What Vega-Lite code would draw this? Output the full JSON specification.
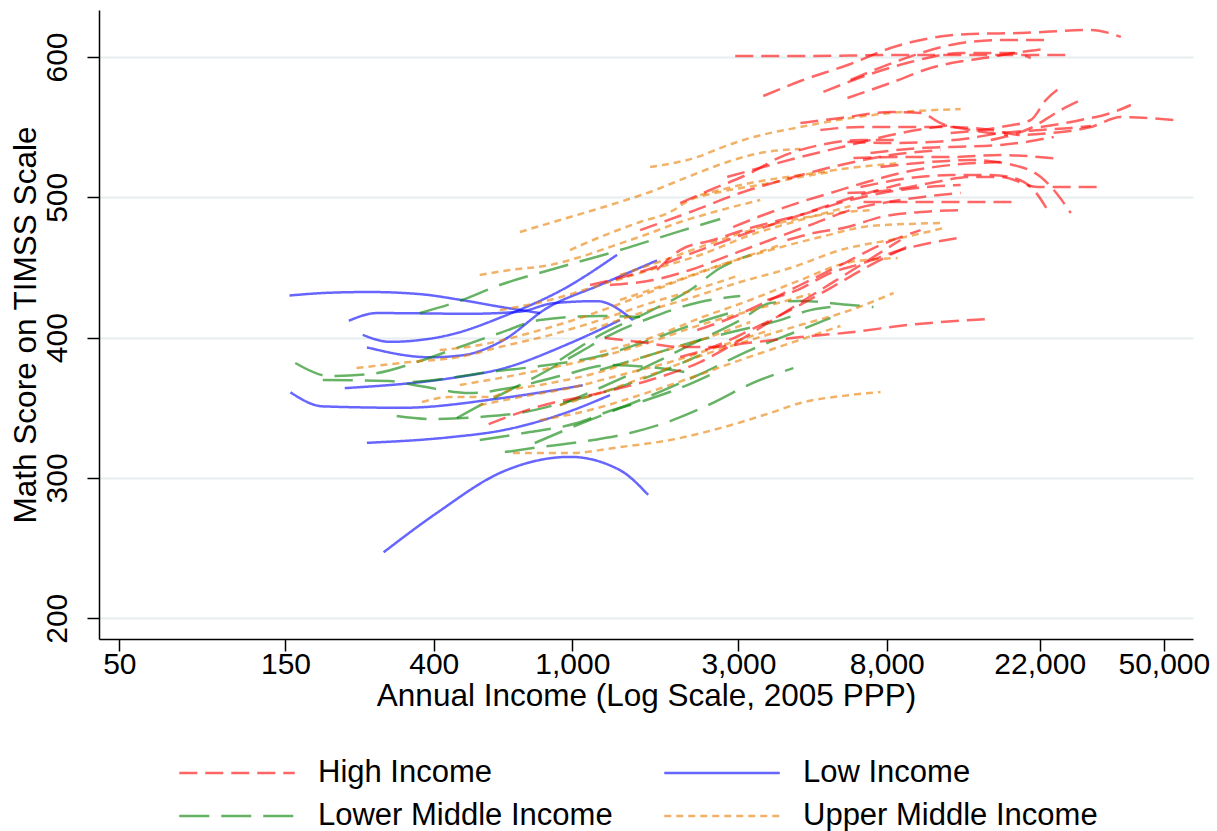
{
  "$schema": "https://vega.github.io/schema/vega-lite/v6.json",
  "width": 1094,
  "height": 629,
  "autosize": "none",
  "padding": {"left": 99, "top": 10, "right": 24, "bottom": 192},
  "background": "white",
  "data": {"values": [
    {"group":"Low Income","id":"L1","income":154,"score":430},{"group":"Low Income","id":"L1","income":201,"score":432},{"group":"Low Income","id":"L1","income":262,"score":432.5},{"group":"Low Income","id":"L1","income":365,"score":431},{"group":"Low Income","id":"L1","income":475,"score":427},{"group":"Low Income","id":"L1","income":619,"score":422},{"group":"Low Income","id":"L1","income":807,"score":417.5},
    {"group":"Low Income","id":"L2","income":228,"score":412},{"group":"Low Income","id":"L2","income":275,"score":417.5},{"group":"Low Income","id":"L2","income":508,"score":417},{"group":"Low Income","id":"L2","income":707,"score":418.5},{"group":"Low Income","id":"L2","income":880,"score":424.5},{"group":"Low Income","id":"L2","income":1177,"score":426},{"group":"Low Income","id":"L2","income":1494,"score":412.5},
    {"group":"Low Income","id":"L3","income":250,"score":402},{"group":"Low Income","id":"L3","income":299,"score":397},{"group":"Low Income","id":"L3","income":445,"score":402},{"group":"Low Income","id":"L3","income":632,"score":415},{"group":"Low Income","id":"L3","income":965,"score":436},{"group":"Low Income","id":"L3","income":1344,"score":459},
    {"group":"Low Income","id":"L4","income":257,"score":393},{"group":"Low Income","id":"L4","income":390,"score":386},{"group":"Low Income","id":"L4","income":485,"score":387.5},{"group":"Low Income","id":"L4","income":632,"score":398},{"group":"Low Income","id":"L4","income":845,"score":421},{"group":"Low Income","id":"L4","income":1200,"score":437.5},{"group":"Low Income","id":"L4","income":1751,"score":455},
    {"group":"Low Income","id":"L5","income":222,"score":364},{"group":"Low Income","id":"L5","income":445,"score":371},{"group":"Low Income","id":"L5","income":632,"score":378},{"group":"Low Income","id":"L5","income":984,"score":396},{"group":"Low Income","id":"L5","income":1371,"score":412.5},
    {"group":"Low Income","id":"L6","income":155,"score":361},{"group":"Low Income","id":"L6","income":192,"score":351},{"group":"Low Income","id":"L6","income":326,"score":350},{"group":"Low Income","id":"L6","income":632,"score":357},{"group":"Low Income","id":"L6","income":1071,"score":366},
    {"group":"Low Income","id":"L7","income":257,"score":325},{"group":"Low Income","id":"L7","income":445,"score":329},{"group":"Low Income","id":"L7","income":632,"score":334},{"group":"Low Income","id":"L7","income":921,"score":345},{"group":"Low Income","id":"L7","income":1283,"score":359},
    {"group":"Low Income","id":"L8","income":287,"score":247},{"group":"Low Income","id":"L8","income":408,"score":275},{"group":"Low Income","id":"L8","income":632,"score":304.5},{"group":"Low Income","id":"L8","income":984,"score":315},{"group":"Low Income","id":"L8","income":1371,"score":305.5},{"group":"Low Income","id":"L8","income":1650,"score":288},

    {"group":"Lower Middle Income","id":"M1","income":365,"score":417.5},{"group":"Lower Middle Income","id":"M1","income":475,"score":426.1},{"group":"Lower Middle Income","id":"M1","income":619,"score":437.5},{"group":"Lower Middle Income","id":"M1","income":862,"score":448.2},{"group":"Lower Middle Income","id":"M1","income":1371,"score":462.4},{"group":"Lower Middle Income","id":"M1","income":2040,"score":475.9},{"group":"Lower Middle Income","id":"M1","income":2659,"score":484.5},
    {"group":"Lower Middle Income","id":"M2","income":160,"score":381.9},{"group":"Lower Middle Income","id":"M2","income":201,"score":372.6},{"group":"Lower Middle Income","id":"M2","income":262,"score":374},{"group":"Lower Middle Income","id":"M2","income":365,"score":383.3},{"group":"Lower Middle Income","id":"M2","income":475,"score":393.3},{"group":"Lower Middle Income","id":"M2","income":619,"score":403.3},{"group":"Lower Middle Income","id":"M2","income":807,"score":412.5},{"group":"Lower Middle Income","id":"M2","income":1200,"score":415.4},{"group":"Lower Middle Income","id":"M2","income":1565,"score":414.7},
    {"group":"Lower Middle Income","id":"M3","income":192,"score":369.8},{"group":"Lower Middle Income","id":"M3","income":299,"score":369},{"group":"Lower Middle Income","id":"M3","income":365,"score":365.5},{"group":"Lower Middle Income","id":"M3","income":508,"score":360.5},{"group":"Lower Middle Income","id":"M3","income":662,"score":364.1},{"group":"Lower Middle Income","id":"M3","income":921,"score":372.6},{"group":"Lower Middle Income","id":"M3","income":1283,"score":380.5},{"group":"Lower Middle Income","id":"M3","income":1672,"score":379},{"group":"Lower Middle Income","id":"M3","income":2180,"score":374.8},
    {"group":"Lower Middle Income","id":"M4","income":348,"score":368.3},{"group":"Lower Middle Income","id":"M4","income":445,"score":371.2},{"group":"Lower Middle Income","id":"M4","income":580,"score":375.5},{"group":"Lower Middle Income","id":"M4","income":807,"score":379.7},{"group":"Lower Middle Income","id":"M4","income":1200,"score":386.9},{"group":"Lower Middle Income","id":"M4","income":1672,"score":398.3},{"group":"Lower Middle Income","id":"M4","income":2329,"score":411.1},{"group":"Lower Middle Income","id":"M4","income":3036,"score":419.7},
    {"group":"Lower Middle Income","id":"M5","income":313,"score":344.1},{"group":"Lower Middle Income","id":"M5","income":390,"score":342},{"group":"Lower Middle Income","id":"M5","income":542,"score":343.4},{"group":"Lower Middle Income","id":"M5","income":707,"score":346.3},{"group":"Lower Middle Income","id":"M5","income":984,"score":354.8},{"group":"Lower Middle Income","id":"M5","income":1283,"score":362.6},{"group":"Lower Middle Income","id":"M5","income":1672,"score":372.6},{"group":"Lower Middle Income","id":"M5","income":2329,"score":387.6},
    {"group":"Lower Middle Income","id":"M6","income":466,"score":342.7},{"group":"Lower Middle Income","id":"M6","income":580,"score":355.5},{"group":"Lower Middle Income","id":"M6","income":755,"score":369.8},{"group":"Lower Middle Income","id":"M6","income":1052,"score":389.7},{"group":"Lower Middle Income","id":"M6","income":1283,"score":401.8},{"group":"Lower Middle Income","id":"M6","income":1672,"score":414},{"group":"Lower Middle Income","id":"M6","income":2329,"score":425.4},{"group":"Lower Middle Income","id":"M6","income":3036,"score":429.6},
    {"group":"Lower Middle Income","id":"M7","income":640,"score":318.4},{"group":"Lower Middle Income","id":"M7","income":807,"score":322},{"group":"Lower Middle Income","id":"M7","income":1052,"score":325.6},{"group":"Lower Middle Income","id":"M7","income":1465,"score":332},{"group":"Lower Middle Income","id":"M7","income":1909,"score":340.5},{"group":"Lower Middle Income","id":"M7","income":2489,"score":352.6},{"group":"Lower Middle Income","id":"M7","income":3244,"score":366.9},{"group":"Lower Middle Income","id":"M7","income":4313,"score":378.3},
    {"group":"Lower Middle Income","id":"M8","income":780,"score":324.9},{"group":"Lower Middle Income","id":"M8","income":984,"score":335.5},{"group":"Lower Middle Income","id":"M8","income":1200,"score":344.1},{"group":"Lower Middle Income","id":"M8","income":1672,"score":358.4},{"group":"Lower Middle Income","id":"M8","income":2329,"score":374},{"group":"Lower Middle Income","id":"M8","income":3244,"score":391.1},{"group":"Lower Middle Income","id":"M8","income":4518,"score":405.4},{"group":"Lower Middle Income","id":"M8","income":5512,"score":414},
    {"group":"Lower Middle Income","id":"M9","income":921,"score":351.9},{"group":"Lower Middle Income","id":"M9","income":1200,"score":364.1},{"group":"Lower Middle Income","id":"M9","income":1672,"score":380.5},{"group":"Lower Middle Income","id":"M9","income":2329,"score":398.3},{"group":"Lower Middle Income","id":"M9","income":3036,"score":412.5},{"group":"Lower Middle Income","id":"M9","income":3703,"score":424.6},{"group":"Lower Middle Income","id":"M9","income":4518,"score":426.1},{"group":"Lower Middle Income","id":"M9","income":6293,"score":423.2},{"group":"Lower Middle Income","id":"M9","income":7328,"score":421.8},
    {"group":"Lower Middle Income","id":"M10","income":1200,"score":376.9},{"group":"Lower Middle Income","id":"M10","income":1672,"score":387.6},{"group":"Lower Middle Income","id":"M10","income":2329,"score":398.3},{"group":"Lower Middle Income","id":"M10","income":3036,"score":405.4},{"group":"Lower Middle Income","id":"M10","income":3957,"score":412.5},{"group":"Lower Middle Income","id":"M10","income":4828,"score":419.6},{"group":"Lower Middle Income","id":"M10","income":5512,"score":421.8},
    {"group":"Lower Middle Income","id":"M11","income":921,"score":384},{"group":"Lower Middle Income","id":"M11","income":1200,"score":401.8},{"group":"Lower Middle Income","id":"M11","income":1672,"score":418.9},{"group":"Lower Middle Income","id":"M11","income":2180,"score":433.9},{"group":"Lower Middle Income","id":"M11","income":2659,"score":449.6},{"group":"Lower Middle Income","id":"M11","income":3244,"score":458.9},
    {"group":"Lower Middle Income","id":"M12","income":542,"score":327},{"group":"Lower Middle Income","id":"M12","income":755,"score":332.7},{"group":"Lower Middle Income","id":"M12","income":1031,"score":339.1},{"group":"Lower Middle Income","id":"M12","income":1257,"score":347},{"group":"Lower Middle Income","id":"M12","income":1565,"score":354.1},{"group":"Lower Middle Income","id":"M12","income":2040,"score":364.1},{"group":"Lower Middle Income","id":"M12","income":2659,"score":376.9},

    {"group":"Upper Middle Income","id":"U1","income":1672,"score":521.6},{"group":"Upper Middle Income","id":"U1","income":2329,"score":529.4},{"group":"Upper Middle Income","id":"U1","income":2659,"score":535.1},{"group":"Upper Middle Income","id":"U1","income":3244,"score":542.3},{"group":"Upper Middle Income","id":"U1","income":4518,"score":550.1},{"group":"Upper Middle Income","id":"U1","income":6293,"score":556.5},{"group":"Upper Middle Income","id":"U1","income":8202,"score":560.1},{"group":"Upper Middle Income","id":"U1","income":13041,"score":562.9},
    {"group":"Upper Middle Income","id":"U2","income":707,"score":475.3},{"group":"Upper Middle Income","id":"U2","income":921,"score":483.8},{"group":"Upper Middle Income","id":"U2","income":1283,"score":494.5},{"group":"Upper Middle Income","id":"U2","income":1672,"score":503.8},{"group":"Upper Middle Income","id":"U2","income":2180,"score":515.2},{"group":"Upper Middle Income","id":"U2","income":2841,"score":525.9},{"group":"Upper Middle Income","id":"U2","income":3466,"score":531.6},{"group":"Upper Middle Income","id":"U2","income":4518,"score":534.4},
    {"group":"Upper Middle Income","id":"U3","income":240,"score":378.3},{"group":"Upper Middle Income","id":"U3","income":341,"score":382.6},{"group":"Upper Middle Income","id":"U3","income":475,"score":386.2},{"group":"Upper Middle Income","id":"U3","income":619,"score":393.3},{"group":"Upper Middle Income","id":"U3","income":862,"score":401.8},{"group":"Upper Middle Income","id":"U3","income":1200,"score":412.5},{"group":"Upper Middle Income","id":"U3","income":1672,"score":424.6},{"group":"Upper Middle Income","id":"U3","income":2329,"score":435.3},{"group":"Upper Middle Income","id":"U3","income":3036,"score":444.6},
    {"group":"Upper Middle Income","id":"U4","income":370,"score":354.1},{"group":"Upper Middle Income","id":"U4","income":445,"score":357.6},{"group":"Upper Middle Income","id":"U4","income":580,"score":357.6},{"group":"Upper Middle Income","id":"U4","income":662,"score":362.6},{"group":"Upper Middle Income","id":"U4","income":807,"score":366.2},{"group":"Upper Middle Income","id":"U4","income":1200,"score":375.5},{"group":"Upper Middle Income","id":"U4","income":1672,"score":387.6},{"group":"Upper Middle Income","id":"U4","income":2329,"score":398.3},{"group":"Upper Middle Income","id":"U4","income":3244,"score":411.1},
    {"group":"Upper Middle Income","id":"U5","income":675,"score":317.7},{"group":"Upper Middle Income","id":"U5","income":984,"score":317.7},{"group":"Upper Middle Income","id":"U5","income":1371,"score":322},{"group":"Upper Middle Income","id":"U5","income":1909,"score":327},{"group":"Upper Middle Income","id":"U5","income":2659,"score":335.5},{"group":"Upper Middle Income","id":"U5","income":3703,"score":346.3},{"group":"Upper Middle Income","id":"U5","income":4518,"score":353.4},{"group":"Upper Middle Income","id":"U5","income":6293,"score":359.1},{"group":"Upper Middle Income","id":"U5","income":7676,"score":361.2},
    {"group":"Upper Middle Income","id":"U6","income":542,"score":444.6},{"group":"Upper Middle Income","id":"U6","income":662,"score":448.2},{"group":"Upper Middle Income","id":"U6","income":862,"score":451.7},{"group":"Upper Middle Income","id":"U6","income":1052,"score":457.4},{"group":"Upper Middle Income","id":"U6","income":1283,"score":464.6},{"group":"Upper Middle Income","id":"U6","income":1672,"score":474.5},{"group":"Upper Middle Income","id":"U6","income":2040,"score":482.4},{"group":"Upper Middle Income","id":"U6","income":2489,"score":488.8},{"group":"Upper Middle Income","id":"U6","income":3466,"score":498.1},
    {"group":"Upper Middle Income","id":"U7","income":984,"score":462.4},{"group":"Upper Middle Income","id":"U7","income":1283,"score":474.5},{"group":"Upper Middle Income","id":"U7","income":1565,"score":482.4},{"group":"Upper Middle Income","id":"U7","income":1909,"score":489.5},{"group":"Upper Middle Income","id":"U7","income":2180,"score":498.1},{"group":"Upper Middle Income","id":"U7","income":2659,"score":503.8},{"group":"Upper Middle Income","id":"U7","income":3703,"score":510.2},{"group":"Upper Middle Income","id":"U7","income":4518,"score":514.5},{"group":"Upper Middle Income","id":"U7","income":5512,"score":518},
    {"group":"Upper Middle Income","id":"U8","income":921,"score":351.9},{"group":"Upper Middle Income","id":"U8","income":1200,"score":360.5},{"group":"Upper Middle Income","id":"U8","income":1672,"score":373.3},{"group":"Upper Middle Income","id":"U8","income":2329,"score":386.9},{"group":"Upper Middle Income","id":"U8","income":3244,"score":398.3},{"group":"Upper Middle Income","id":"U8","income":4518,"score":409},{"group":"Upper Middle Income","id":"U8","income":6293,"score":419.6},{"group":"Upper Middle Income","id":"U8","income":8367,"score":431.8},
    {"group":"Upper Middle Income","id":"U9","income":1124,"score":405.4},{"group":"Upper Middle Income","id":"U9","income":1565,"score":417.5},{"group":"Upper Middle Income","id":"U9","income":2180,"score":428.2},{"group":"Upper Middle Income","id":"U9","income":3036,"score":439.6},{"group":"Upper Middle Income","id":"U9","income":4228,"score":449.6},{"group":"Upper Middle Income","id":"U9","income":5889,"score":462.4},{"group":"Upper Middle Income","id":"U9","income":8764,"score":471},{"group":"Upper Middle Income","id":"U9","income":11653,"score":478.1},
    {"group":"Upper Middle Income","id":"U10","income":1371,"score":426.8},{"group":"Upper Middle Income","id":"U10","income":1909,"score":438.9},{"group":"Upper Middle Income","id":"U10","income":2659,"score":451.7},{"group":"Upper Middle Income","id":"U10","income":3703,"score":462.4},{"group":"Upper Middle Income","id":"U10","income":5158,"score":471.7},{"group":"Upper Middle Income","id":"U10","income":7184,"score":479.5},{"group":"Upper Middle Income","id":"U10","income":11653,"score":481.7},
    {"group":"Upper Middle Income","id":"U11","income":1200,"score":389.7},{"group":"Upper Middle Income","id":"U11","income":1672,"score":399.7},{"group":"Upper Middle Income","id":"U11","income":2329,"score":414},{"group":"Upper Middle Income","id":"U11","income":3244,"score":426.8},{"group":"Upper Middle Income","id":"U11","income":4518,"score":441},{"group":"Upper Middle Income","id":"U11","income":6293,"score":453.9},{"group":"Upper Middle Income","id":"U11","income":8592,"score":456.7},
    {"group":"Upper Middle Income","id":"U12","income":416,"score":391.1},{"group":"Upper Middle Income","id":"U12","income":542,"score":394.7},{"group":"Upper Middle Income","id":"U12","income":755,"score":403.3},{"group":"Upper Middle Income","id":"U12","income":1052,"score":414},{"group":"Upper Middle Income","id":"U12","income":1465,"score":426.8},{"group":"Upper Middle Income","id":"U12","income":2040,"score":441},{"group":"Upper Middle Income","id":"U12","income":2841,"score":453.9},{"group":"Upper Middle Income","id":"U12","income":3957,"score":466},
    {"group":"Upper Middle Income","id":"U13","income":619,"score":419.6},{"group":"Upper Middle Income","id":"U13","income":862,"score":426.8},{"group":"Upper Middle Income","id":"U13","income":1200,"score":437.5},{"group":"Upper Middle Income","id":"U13","income":1672,"score":448.2},{"group":"Upper Middle Income","id":"U13","income":2329,"score":458.9},{"group":"Upper Middle Income","id":"U13","income":3244,"score":473.1},{"group":"Upper Middle Income","id":"U13","income":4518,"score":483.8},{"group":"Upper Middle Income","id":"U13","income":6293,"score":493.8},
    {"group":"Upper Middle Income","id":"U14","income":475,"score":366.2},{"group":"Upper Middle Income","id":"U14","income":619,"score":371.2},{"group":"Upper Middle Income","id":"U14","income":862,"score":378.3},{"group":"Upper Middle Income","id":"U14","income":1200,"score":386.2},{"group":"Upper Middle Income","id":"U14","income":1672,"score":396.8},{"group":"Upper Middle Income","id":"U14","income":2329,"score":409},{"group":"Upper Middle Income","id":"U14","income":3466,"score":421.1},{"group":"Upper Middle Income","id":"U14","income":4828,"score":431.1},
    {"group":"Upper Middle Income","id":"U15","income":807,"score":341.2},{"group":"Upper Middle Income","id":"U15","income":1124,"score":348.4},{"group":"Upper Middle Income","id":"U15","income":1565,"score":359.1},{"group":"Upper Middle Income","id":"U15","income":2180,"score":371.2},{"group":"Upper Middle Income","id":"U15","income":3036,"score":384},{"group":"Upper Middle Income","id":"U15","income":4228,"score":396.1},{"group":"Upper Middle Income","id":"U15","income":5889,"score":408.3},
    {"group":"Upper Middle Income","id":"U16","income":542,"score":351.9},{"group":"Upper Middle Income","id":"U16","income":707,"score":357.6},{"group":"Upper Middle Income","id":"U16","income":984,"score":364.1},{"group":"Upper Middle Income","id":"U16","income":1371,"score":373.3},{"group":"Upper Middle Income","id":"U16","income":1909,"score":382.6},{"group":"Upper Middle Income","id":"U16","income":2659,"score":394},{"group":"Upper Middle Income","id":"U16","income":3703,"score":405.4},
    {"group":"Upper Middle Income","id":"U17","income":2329,"score":501.6},{"group":"Upper Middle Income","id":"U17","income":3244,"score":510.2},{"group":"Upper Middle Income","id":"U17","income":4518,"score":515.9},{"group":"Upper Middle Income","id":"U17","income":6293,"score":520.9},{"group":"Upper Middle Income","id":"U17","income":8764,"score":524.5},
    {"group":"Upper Middle Income","id":"U18","income":1371,"score":444.6},{"group":"Upper Middle Income","id":"U18","income":1909,"score":456.7},{"group":"Upper Middle Income","id":"U18","income":2659,"score":469.6},{"group":"Upper Middle Income","id":"U18","income":3703,"score":480.3},{"group":"Upper Middle Income","id":"U18","income":5158,"score":487.4},{"group":"Upper Middle Income","id":"U18","income":7184,"score":490.9},

    {"group":"High Income","id":"H1","income":2937,"score":600.7},{"group":"High Income","id":"H1","income":4518,"score":600.7},{"group":"High Income","id":"H1","income":8764,"score":601.4},{"group":"High Income","id":"H1","income":16997,"score":601.4},{"group":"High Income","id":"H1","income":26142,"score":601.4},
    {"group":"High Income","id":"H2","income":3536,"score":572.2},{"group":"High Income","id":"H2","income":4518,"score":582.9},{"group":"High Income","id":"H2","income":6293,"score":595},{"group":"High Income","id":"H2","income":8202,"score":606.4},{"group":"High Income","id":"H2","income":10691,"score":613.5},{"group":"High Income","id":"H2","income":13934,"score":616.4},{"group":"High Income","id":"H2","income":19404,"score":617.1},{"group":"High Income","id":"H2","income":30849,"score":619.3},{"group":"High Income","id":"H2","income":37630,"score":614.3},
    {"group":"High Income","id":"H3","income":5262,"score":575.1},{"group":"High Income","id":"H3","income":7184,"score":587.9},{"group":"High Income","id":"H3","income":9364,"score":596.4},{"group":"High Income","id":"H3","income":13041,"score":602.9},{"group":"High Income","id":"H3","income":18161,"score":602.9},{"group":"High Income","id":"H3","income":20733,"score":599.3},
    {"group":"High Income","id":"H4","income":6169,"score":570.8},{"group":"High Income","id":"H4","income":8202,"score":581.5},{"group":"High Income","id":"H4","income":10691,"score":592.2},{"group":"High Income","id":"H4","income":15908,"score":600},{"group":"High Income","id":"H4","income":19404,"score":603.6},{"group":"High Income","id":"H4","income":22598,"score":605.7},
    {"group":"High Income","id":"H5","income":6293,"score":583.6},{"group":"High Income","id":"H5","income":8764,"score":597.9},{"group":"High Income","id":"H5","income":12205,"score":608.6},{"group":"High Income","id":"H5","income":16997,"score":612.1},{"group":"High Income","id":"H5","income":23669,"score":612.1},
    {"group":"High Income","id":"H6","income":5158,"score":548},{"group":"High Income","id":"H6","income":6724,"score":550.1},{"group":"High Income","id":"H6","income":8764,"score":550.1},{"group":"High Income","id":"H6","income":12205,"score":550.1},{"group":"High Income","id":"H6","income":15908,"score":548},{"group":"High Income","id":"H6","income":19404,"score":544.4},{"group":"High Income","id":"H6","income":23669,"score":545.8},{"group":"High Income","id":"H6","income":30849,"score":550.1},{"group":"High Income","id":"H6","income":37630,"score":557.2},{"group":"High Income","id":"H6","income":53456,"score":555.1},
    {"group":"High Income","id":"H7","income":4518,"score":552.9},{"group":"High Income","id":"H7","income":5889,"score":556.5},{"group":"High Income","id":"H7","income":8202,"score":560.8},{"group":"High Income","id":"H7","income":10006,"score":560.1},{"group":"High Income","id":"H7","income":11423,"score":552.9},{"group":"High Income","id":"H7","income":13934,"score":548},{"group":"High Income","id":"H7","income":17804,"score":544.4},
    {"group":"High Income","id":"H8","income":6169,"score":539.4},{"group":"High Income","id":"H8","income":8202,"score":538.7},{"group":"High Income","id":"H8","income":10691,"score":539.4},{"group":"High Income","id":"H8","income":13934,"score":542.3},{"group":"High Income","id":"H8","income":16997,"score":545.8},{"group":"High Income","id":"H8","income":22153,"score":548},{"group":"High Income","id":"H8","income":27022,"score":549.4},{"group":"High Income","id":"H8","income":30849,"score":550.8},
    {"group":"High Income","id":"H9","income":7184,"score":531.6},{"group":"High Income","id":"H9","income":10006,"score":535.1},{"group":"High Income","id":"H9","income":12205,"score":535.9},{"group":"High Income","id":"H9","income":16997,"score":537.3},{"group":"High Income","id":"H9","income":24145,"score":543},
    {"group":"High Income","id":"H10","income":6419,"score":528},{"group":"High Income","id":"H10","income":8764,"score":528.7},{"group":"High Income","id":"H10","income":12205,"score":528.7},{"group":"High Income","id":"H10","income":16997,"score":530.1},{"group":"High Income","id":"H10","income":25290,"score":527.3},
    {"group":"High Income","id":"H11","income":7676,"score":521.6},{"group":"High Income","id":"H11","income":10691,"score":525.2},{"group":"High Income","id":"H11","income":13934,"score":526.6},{"group":"High Income","id":"H11","income":19404,"score":521.6},{"group":"High Income","id":"H11","income":22153,"score":514.5},{"group":"High Income","id":"H11","income":24145,"score":505.2},{"group":"High Income","id":"H11","income":27022,"score":488.8},
    {"group":"High Income","id":"H12","income":6724,"score":507.3},{"group":"High Income","id":"H12","income":9364,"score":513.8},{"group":"High Income","id":"H12","income":12205,"score":515.9},{"group":"High Income","id":"H12","income":15908,"score":515.9},{"group":"High Income","id":"H12","income":18526,"score":513.8},{"group":"High Income","id":"H12","income":21150,"score":505.2},{"group":"High Income","id":"H12","income":23360,"score":489.5},
    {"group":"High Income","id":"H13","income":6169,"score":503.1},{"group":"High Income","id":"H13","income":8202,"score":505.2},{"group":"High Income","id":"H13","income":10691,"score":510.2},{"group":"High Income","id":"H13","income":13934,"score":514.5},{"group":"High Income","id":"H13","income":16997,"score":514.5},{"group":"High Income","id":"H13","income":21718,"score":507.3},{"group":"High Income","id":"H13","income":32530,"score":507.3},
    {"group":"High Income","id":"H14","income":6859,"score":496.6},{"group":"High Income","id":"H14","income":10006,"score":496.6},{"group":"High Income","id":"H14","income":13934,"score":496.6},{"group":"High Income","id":"H14","income":18526,"score":496.6},
    {"group":"High Income","id":"H15","income":12205,"score":545.8},{"group":"High Income","id":"H15","income":16997,"score":550.1},{"group":"High Income","id":"H15","income":20733,"score":555.1},{"group":"High Income","id":"H15","income":22900,"score":569.3},{"group":"High Income","id":"H15","income":25798,"score":580},
    {"group":"High Income","id":"H16","income":15908,"score":540.8},{"group":"High Income","id":"H16","income":20733,"score":549.4},{"group":"High Income","id":"H16","income":25290,"score":562.2},{"group":"High Income","id":"H16","income":28872,"score":569.3},
    {"group":"High Income","id":"H17","income":22153,"score":550.1},{"group":"High Income","id":"H17","income":28872,"score":555.1},{"group":"High Income","id":"H17","income":35219,"score":560.1},{"group":"High Income","id":"H17","income":40207,"score":565.8},
    {"group":"High Income","id":"H18","income":2040,"score":495.9},{"group":"High Income","id":"H18","income":2489,"score":505.2},{"group":"High Income","id":"H18","income":3244,"score":517.3},{"group":"High Income","id":"H18","income":3957,"score":528.7},{"group":"High Income","id":"H18","income":5158,"score":537.3},{"group":"High Income","id":"H18","income":6724,"score":540.8},{"group":"High Income","id":"H18","income":8764,"score":540.8},
    {"group":"High Income","id":"H19","income":2898,"score":478.8},{"group":"High Income","id":"H19","income":3536,"score":487.4},{"group":"High Income","id":"H19","income":4429,"score":495.9},{"group":"High Income","id":"H19","income":5512,"score":503.1},{"group":"High Income","id":"H19","income":6859,"score":510.2},{"group":"High Income","id":"H19","income":8764,"score":517.3},{"group":"High Income","id":"H19","income":12205,"score":523},{"group":"High Income","id":"H19","income":16997,"score":525.2},
    {"group":"High Income","id":"H20","income":2785,"score":514.5},{"group":"High Income","id":"H20","income":3536,"score":521.6},{"group":"High Income","id":"H20","income":4518,"score":528.7},{"group":"High Income","id":"H20","income":6293,"score":537.3},{"group":"High Income","id":"H20","income":8764,"score":545.8},{"group":"High Income","id":"H20","income":12205,"score":551.5},
    {"group":"High Income","id":"H21","income":4145,"score":469.6},{"group":"High Income","id":"H21","income":4925,"score":474.5},{"group":"High Income","id":"H21","income":6169,"score":478.8},{"group":"High Income","id":"H21","income":7676,"score":485.9},{"group":"High Income","id":"H21","income":10006,"score":489.5},{"group":"High Income","id":"H21","income":13041,"score":490.9},
    {"group":"High Income","id":"H22","income":3631,"score":426.8},{"group":"High Income","id":"H22","income":4429,"score":433.9},{"group":"High Income","id":"H22","income":5512,"score":446},{"group":"High Income","id":"H22","income":6859,"score":453.2},{"group":"High Income","id":"H22","income":8764,"score":462.4},{"group":"High Income","id":"H22","income":12785,"score":471},
    {"group":"High Income","id":"H23","income":1240,"score":399.7},{"group":"High Income","id":"H23","income":1565,"score":396.8},{"group":"High Income","id":"H23","income":2040,"score":393.3},{"group":"High Income","id":"H23","income":2539,"score":393.3},{"group":"High Income","id":"H23","income":3180,"score":396.1},{"group":"High Income","id":"H23","income":4518,"score":400.4},{"group":"High Income","id":"H23","income":6419,"score":404},{"group":"High Income","id":"H23","income":9180,"score":409},{"group":"High Income","id":"H23","income":15595,"score":413.2},
    {"group":"High Income","id":"H24","income":575,"score":338.4},{"group":"High Income","id":"H24","income":807,"score":351.2},{"group":"High Income","id":"H24","income":1200,"score":360.5},{"group":"High Income","id":"H24","income":1672,"score":369.8},{"group":"High Income","id":"H24","income":2329,"score":382.6},{"group":"High Income","id":"H24","income":3036,"score":398.3},{"group":"High Income","id":"H24","income":3957,"score":416.1},{"group":"High Income","id":"H24","income":5158,"score":433.9},{"group":"High Income","id":"H24","income":6724,"score":451.7},{"group":"High Income","id":"H24","income":8764,"score":469.6},
    {"group":"High Income","id":"H25","income":1283,"score":437.5},{"group":"High Income","id":"H25","income":1706,"score":441},{"group":"High Income","id":"H25","income":2180,"score":448.2},{"group":"High Income","id":"H25","income":2841,"score":458.9},{"group":"High Income","id":"H25","income":3703,"score":469.6},{"group":"High Income","id":"H25","income":4828,"score":480.3},{"group":"High Income","id":"H25","income":6293,"score":490.9},{"group":"High Income","id":"H25","income":8764,"score":498.1},{"group":"High Income","id":"H25","income":13041,"score":503.1},
    {"group":"High Income","id":"H26","income":1751,"score":448.2},{"group":"High Income","id":"H26","income":2040,"score":462.4},{"group":"High Income","id":"H26","income":2539,"score":469.6},{"group":"High Income","id":"H26","income":3244,"score":478.1},{"group":"High Income","id":"H26","income":4518,"score":487.4},{"group":"High Income","id":"H26","income":6293,"score":498.1},{"group":"High Income","id":"H26","income":8764,"score":505.2},{"group":"High Income","id":"H26","income":13041,"score":508.8},
    {"group":"High Income","id":"H27","income":2284,"score":405.4},{"group":"High Income","id":"H27","income":2898,"score":414.7},{"group":"High Income","id":"H27","income":3536,"score":424.6},{"group":"High Income","id":"H27","income":4518,"score":437.5},{"group":"High Income","id":"H27","income":5889,"score":451.7},{"group":"High Income","id":"H27","income":7676,"score":466},{"group":"High Income","id":"H27","income":10006,"score":476.6},
    {"group":"High Income","id":"H28","income":2040,"score":386.2},{"group":"High Income","id":"H28","income":2539,"score":393.3},{"group":"High Income","id":"H28","income":3244,"score":405.4},{"group":"High Income","id":"H28","income":4228,"score":419.6},{"group":"High Income","id":"H28","income":5512,"score":435.3},{"group":"High Income","id":"H28","income":7184,"score":451.7},{"group":"High Income","id":"H28","income":9364,"score":466},
    {"group":"High Income","id":"H29","income":1124,"score":437.5},{"group":"High Income","id":"H29","income":1565,"score":446.7},{"group":"High Income","id":"H29","income":2329,"score":462.4},{"group":"High Income","id":"H29","income":3244,"score":475.3},{"group":"High Income","id":"H29","income":4518,"score":487.4},{"group":"High Income","id":"H29","income":6293,"score":499.5},{"group":"High Income","id":"H29","income":8764,"score":509.4},
    {"group":"High Income","id":"H30","income":1565,"score":476.6},{"group":"High Income","id":"H30","income":2180,"score":489.5},{"group":"High Income","id":"H30","income":3036,"score":503.1},{"group":"High Income","id":"H30","income":4228,"score":513.8},{"group":"High Income","id":"H30","income":5889,"score":523},{"group":"High Income","id":"H30","income":8202,"score":530.1},{"group":"High Income","id":"H30","income":11423,"score":533.7}
  ]},
  "mark": {"type": "line", "strokeWidth": 2.5, "opacity": 0.6, "interpolate": "monotone", "clip": true},
  "encoding": {
    "x": {
      "field": "income",
      "type": "quantitative",
      "title": "Annual Income (Log Scale, 2005 PPP)",
      "scale": {"type": "log", "domain": [43.7, 60630], "nice": false, "zero": false},
      "axis": {"values": [50, 150, 400, 1000, 3000, 8000, 22000, 50000], "format": ",", "grid": false, "labelPadding": -2, "titlePadding": 1, "labelFlush": false}
    },
    "y": {
      "field": "score",
      "type": "quantitative",
      "title": "Math Score on TIMSS Scale",
      "scale": {"domain": [185.2, 633.5], "nice": false, "zero": false},
      "axis": {"values": [200, 300, 400, 500, 600], "grid": true, "gridColor": "#e6eef0", "gridWidth": 2, "labelAngle": -90, "labelAlign": "center", "labelBaseline": "alphabetic", "labelPadding": 21, "titlePadding": 0}
    },
    "detail": {"field": "id"},
    "color": {
      "field": "group",
      "type": "nominal",
      "title": null,
      "scale": {"domain": ["High Income", "Low Income", "Lower Middle Income", "Upper Middle Income"], "range": ["#ff0000", "#0000ff", "#008000", "#e87d00"]}
    },
    "strokeDash": {
      "field": "group",
      "type": "nominal",
      "title": null,
      "scale": {"domain": ["High Income", "Low Income", "Lower Middle Income", "Upper Middle Income"], "range": [[18, 8], [1, 0], [30, 12], [7, 5]]}
    }
  },
  "config": {
    "view": {"stroke": null},
    "font": "Liberation Sans",
    "axis": {
      "domainColor": "#000000",
      "domainWidth": 1.5,
      "tickColor": "#000000",
      "tickWidth": 1.5,
      "tickSize": 12,
      "labelColor": "#000000",
      "labelFont": "Liberation Sans",
      "labelFontSize": 30,
      "titleColor": "#000000",
      "titleFont": "Liberation Sans",
      "titleFontSize": 31.5,
      "titleFontWeight": "normal"
    },
    "legend": {
      "orient": "none",
      "legendX": 119,
      "legendY": 744,
      "columns": 2,
      "direction": "horizontal",
      "symbolType": "M-3.3,0H3.3",
      "symbolSize": 1225,
      "symbolStrokeWidth": 2.5,
      "symbolOpacity": 0.6,
      "labelFont": "Liberation Sans",
      "labelFontSize": 31,
      "labelLimit": 500,
      "labelColor": "#000000",
      "labelOffset": 62,
      "columnPadding": 46,
      "rowPadding": 9,
      "padding": 0
    }
  }
}
